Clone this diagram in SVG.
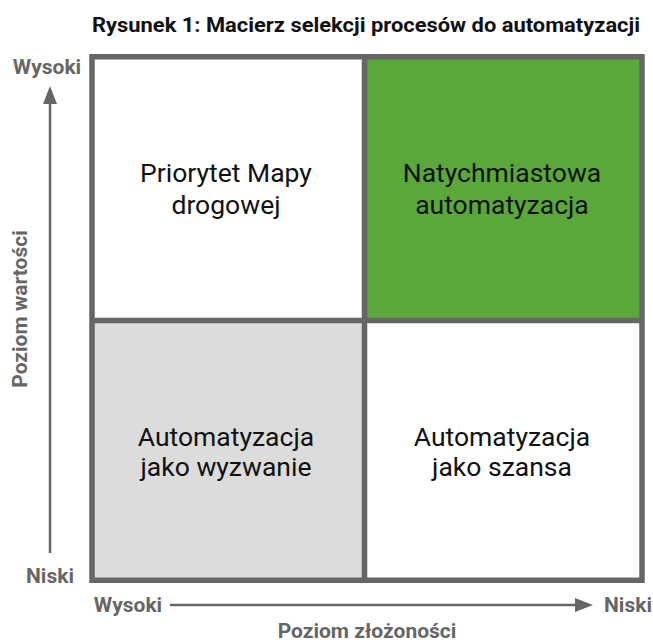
<svg xmlns="http://www.w3.org/2000/svg" width="653" height="644" viewBox="0 0 653 644">
  <defs>
    <style>
      .title { font-family: Roboto, "Liberation Sans", sans-serif; font-weight: 700; font-size: 20px; fill: #111; }
      .axis { font-family: Roboto, "Liberation Sans", sans-serif; font-weight: 700; font-size: 21px; fill: #666; }
      .cell { font-family: Roboto, "Liberation Sans", sans-serif; font-weight: 400; font-size: 26.5px; fill: #111; text-anchor: middle; }
      .line { stroke: #666; stroke-width: 2.5; fill: none; }
      .divider { stroke: #666; stroke-width: 5.5; fill: none; }
    </style>
    <marker id="arrow" viewBox="0 0 18 14" refX="8" refY="7" markerWidth="18" markerHeight="14" markerUnits="userSpaceOnUse" orient="auto">
      <path d="M0,0 L18,7 L0,14 z" fill="#666"/>
    </marker>
  </defs>
  <rect width="653" height="644" fill="#ffffff"/>
  <text class="title" x="366" y="32" text-anchor="middle" textLength="548" lengthAdjust="spacingAndGlyphs">Rysunek 1: Macierz selekcji procesów do automatyzacji</text>

  <g id="cell-top-left">
    <rect x="92" y="57" width="272.5" height="263.5" fill="#ffffff"/>
    <text class="cell" x="226" y="182">Priorytet Mapy</text>
    <text class="cell" x="226" y="214">drogowej</text>
  </g>
  <g id="cell-top-right">
    <rect x="364.5" y="57" width="278" height="263.5" fill="#5aa83a"/>
    <text class="cell" x="502" y="182">Natychmiastowa</text>
    <text class="cell" x="502" y="214">automatyzacja</text>
  </g>
  <g id="cell-bottom-left">
    <rect x="92" y="320.5" width="272.5" height="260" fill="#dcdcdc"/>
    <text class="cell" x="226" y="446">Automatyzacja</text>
    <text class="cell" x="226" y="476">jako wyzwanie</text>
  </g>
  <g id="cell-bottom-right">
    <rect x="364.5" y="320.5" width="278" height="260" fill="#ffffff"/>
    <text class="cell" x="502" y="446">Automatyzacja</text>
    <text class="cell" x="502" y="476">jako szansa</text>
  </g>

  <g id="frame">
    <rect class="divider" x="92" y="56.75" width="550" height="523.5"/>
    <line class="divider" x1="364.5" y1="57" x2="364.5" y2="580"/>
    <line class="divider" x1="92" y1="320.5" x2="642" y2="320.5"/>
  </g>

  <g id="connectors">
    <line class="line" x1="50" y1="553" x2="50" y2="96" marker-end="url(#arrow)"/>
    <line class="line" x1="170" y1="605" x2="583" y2="605" marker-end="url(#arrow)"/>
  </g>

  <g id="labels">
    <text class="axis" x="47" y="74" text-anchor="middle">Wysoki</text>
    <text class="axis" x="50" y="583" text-anchor="middle">Niski</text>
    <text class="axis" x="128" y="612" text-anchor="middle">Wysoki</text>
    <text class="axis" x="628" y="612" text-anchor="middle">Niski</text>
    <text class="axis" x="367" y="638" text-anchor="middle">Poziom złożoności</text>
    <text class="axis" transform="translate(27,309) rotate(-90)" text-anchor="middle">Poziom wartości</text>
  </g>
</svg>
